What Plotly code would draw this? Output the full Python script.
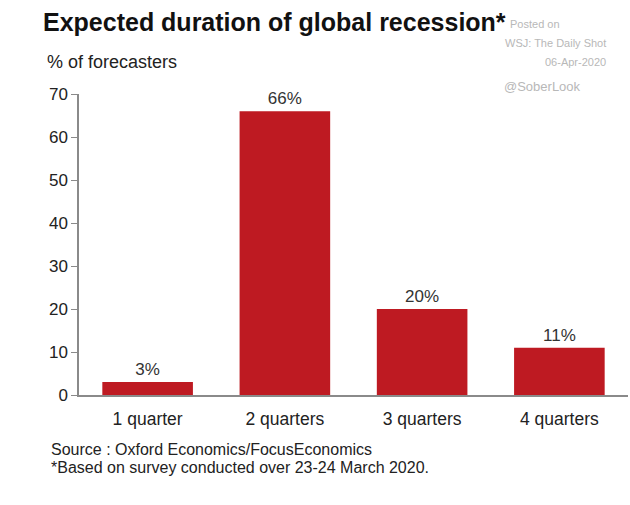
import plotly.graph_objects as go

categories = ["1 quarter", "2 quarters", "3 quarters", "4 quarters"]
values = [3, 66, 20, 11]
labels = ["3%", "66%", "20%", "11%"]
y_ticks = [0, 10, 20, 30, 40, 50, 60, 70]

FONT = "Liberation Sans"

fig = go.Figure()
fig.add_trace(go.Bar(
    x=categories, y=values, text=labels, textposition="outside",
    textfont=dict(size=17, color="#333333", family=FONT),
    marker=dict(color="#BE1A22", line=dict(width=0)),
    width=0.66, cliponaxis=False,
))

X0, X1, Y0, Y1 = 79, 628, 94, 395

fig.update_layout(
    width=630, height=505,
    margin=dict(l=X0, r=630 - X1, t=Y0, b=505 - Y1, pad=0),
    paper_bgcolor="white", plot_bgcolor="white",
    font=dict(family=FONT, color="#222222"),
    showlegend=False,
    xaxis=dict(range=[-0.5, 3.5], showline=True, linecolor="#8a8a8a", linewidth=2,
               ticks="", tickfont=dict(size=17.5, color="#222222"), ticklabelstandoff=7,
               showgrid=False, zeroline=False),
    yaxis=dict(range=[0, 70], tickvals=y_ticks, showline=True, linecolor="#8a8a8a",
               linewidth=1.5, ticks="outside", ticklen=6, tickcolor="#8a8a8a",
               tickfont=dict(size=17, color="#222222"), showgrid=False, zeroline=False),
)


def px_ann(text, px, py, size, color="#222222", xanchor="left", bold=False):
    fig.add_annotation(
        text=("<b>%s</b>" % text) if bold else text,
        x=(px - X0) / (X1 - X0), y=(Y1 - py) / (Y1 - Y0),
        xref="paper", yref="paper", xanchor=xanchor, yanchor="middle",
        showarrow=False, font=dict(size=size, color=color, family=FONT),
    )


px_ann("Expected duration of global recession*", 41, 22, 25, "#111111", bold=True)
px_ann("% of forecasters", 45, 62, 18, "#222222")
px_ann("Posted on", 508, 24, 11, "#b8b8b8")
px_ann("WSJ: The Daily Shot", 608, 43, 11, "#b8b8b8", xanchor="right")
px_ann("06-Apr-2020", 608, 62, 11, "#b8b8b8", xanchor="right")
px_ann("@SoberLook", 583, 86, 13, "#b8b8b8", xanchor="right")
px_ann("Source : Oxford Economics/FocusEconomics", 49, 449, 16, "#222222")
px_ann("*Based on survey conducted over 23-24 March 2020.", 49, 467, 16, "#222222")

fig.write_html("out.html", config={"displayModeBar": False},
               post_script="document.body.style.margin='0';")
